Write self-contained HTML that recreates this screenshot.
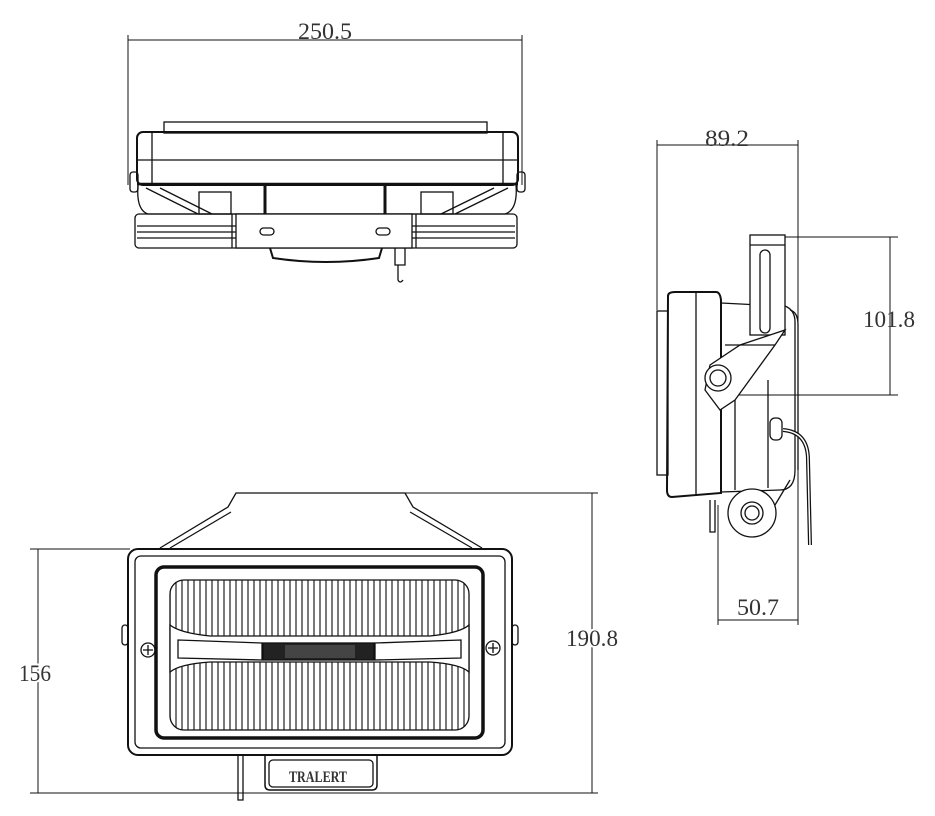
<!DOCTYPE html>
<html><head><meta charset="utf-8"><style>
html,body{margin:0;padding:0;background:#fff;}
svg{display:block}
text{font-family:"Liberation Serif",serif;fill:#333;}
</style></head><body>
<svg width="935" height="816" viewBox="0 0 935 816" xmlns="http://www.w3.org/2000/svg">
<defs>
<pattern id="ribs" width="6" height="10" patternUnits="userSpaceOnUse">
<rect width="6" height="10" fill="#fff"/><line x1="2" y1="0" x2="2" y2="10" stroke="#222" stroke-width="1.2"/>
</pattern>
</defs>
<g fill="none" stroke="#111" stroke-width="1.3">
<line x1="128" y1="40" x2="522" y2="40" stroke-width="1"/>
<line x1="128" y1="35" x2="128" y2="185" stroke-width="1"/>
<line x1="522" y1="35" x2="522" y2="185" stroke-width="1"/>
<rect x="164" y="122" width="323" height="11"/>
<rect x="137" y="132" width="381" height="53" rx="6" stroke-width="2"/>
<line x1="152" y1="133" x2="152" y2="184"/>
<line x1="503" y1="133" x2="503" y2="184"/>
<line x1="138" y1="160" x2="517" y2="160"/>
<line x1="137" y1="184" x2="518" y2="184" stroke-width="2.5"/>
<rect x="130" y="172" width="8" height="20" rx="3"/>
<rect x="517" y="172" width="8" height="20" rx="3"/>
<path d="M138 185 Q136 210 148 214 L505 214 Q518 210 516 185"/>
<line x1="146" y1="188" x2="198" y2="214"/><line x1="160" y1="188" x2="212" y2="214"/>
<line x1="508" y1="188" x2="455" y2="214"/><line x1="494" y1="188" x2="441" y2="214"/>
<rect x="199" y="192" width="32" height="22"/>
<rect x="421" y="192" width="32" height="22"/>
<line x1="265" y1="186" x2="265" y2="214" stroke-width="3"/>
<line x1="385" y1="186" x2="385" y2="214" stroke-width="3"/>
<rect x="135" y="214" width="382" height="34" rx="4"/>
<line x1="137" y1="226" x2="515" y2="226"/><line x1="137" y1="232" x2="515" y2="232"/><line x1="137" y1="238" x2="515" y2="238"/>
<rect x="236" y="214" width="176" height="34" fill="#fff"/>
<line x1="232" y1="214" x2="232" y2="248"/><line x1="416" y1="214" x2="416" y2="248"/>
<rect x="260" y="228" width="14" height="7" rx="3.5"/>
<rect x="376" y="228" width="14" height="7" rx="3.5"/>
<path d="M270 248 L273 258 Q326 266 379 258 L382 248" stroke-width="2"/>
<path d="M395 248 L395 265 L405 265 L405 248 M398 265 L398 280 Q400 284 403 280" />
<line x1="657" y1="145" x2="798" y2="145" stroke-width="1"/>
<line x1="657" y1="140" x2="657" y2="310" stroke-width="1"/>
<line x1="798" y1="140" x2="798" y2="625" stroke-width="1"/>
<line x1="780" y1="237" x2="898" y2="237" stroke-width="1"/>
<line x1="725" y1="395" x2="898" y2="395" stroke-width="1"/>
<line x1="890" y1="237" x2="890" y2="395" stroke-width="1"/>
<line x1="718" y1="505" x2="718" y2="625" stroke-width="1"/>
<line x1="718" y1="620" x2="798" y2="620" stroke-width="1"/>
<rect x="657" y="311" width="11" height="164"/>
<path d="M668 296 Q668 292 675 292 L716 292 Q720 292 721 300 L721 493 L672 497 Q667 497 667 490 Z" stroke-width="2"/>
<line x1="696" y1="293" x2="696" y2="496"/>
<path d="M721 303 L760 305 L785 306 Q795 310 795 322 L795 470 Q795 490 780 490 L721 492"/>
<path d="M790 310 Q798 312 798 325 L798 470"/>
<rect x="750" y="235" width="35" height="100" fill="#fff"/>
<line x1="750" y1="245" x2="785" y2="245"/>
<rect x="760" y="250" width="10" height="83" rx="5"/>
<path d="M785 330 L775 345 L735 400 L720 410 L705 390 L710 365 L740 345 Z" fill="#fff"/>
<line x1="725" y1="345" x2="775" y2="345"/>
<line x1="735" y1="400" x2="735" y2="490"/><line x1="768" y1="380" x2="768" y2="488"/>
<circle cx="718" cy="378" r="13" fill="#fff"/><circle cx="718" cy="378" r="8"/>
<rect x="770" y="418" width="12" height="22" rx="5"/>
<path d="M783 430 Q808 432 808 460 L810 545" stroke-width="4"/>
<path d="M783 430 Q808 432 808 460 L810 545" stroke="#fff" stroke-width="1.5"/>
<circle cx="752" cy="513" r="24" fill="#fff"/><circle cx="752" cy="513" r="11"/><circle cx="752" cy="513" r="7"/>
<path d="M775 505 L790 480"/>
<path d="M710 500 L710 532 L715 532 L715 500"/>
<line x1="405" y1="493" x2="598" y2="493" stroke-width="1"/>
<line x1="30" y1="793" x2="598" y2="793" stroke-width="1"/>
<line x1="592" y1="493" x2="592" y2="793" stroke-width="1"/>
<line x1="30" y1="549" x2="130" y2="549" stroke-width="1"/>
<line x1="38" y1="549" x2="38" y2="793" stroke-width="1"/>
<path d="M160 548 L228 507 L236 493 L405 493 L413 507 L482 548"/>
<path d="M170 548 L231 512 M472 548 L410 512"/>
<rect x="128" y="549" width="384" height="206" rx="10" stroke-width="2"/>
<rect x="135" y="556" width="370" height="192" rx="6"/>
<rect x="122" y="625" width="6" height="20" rx="3"/><rect x="512" y="625" width="6" height="20" rx="3"/>
<rect x="156" y="567" width="327" height="171" rx="8" stroke-width="3.5"/>
<rect x="170" y="580" width="299" height="150" rx="14" fill="url(#ribs)"/>
<path d="M170 625 Q180 633 210 636 L430 636 Q460 633 469 625 L469 672 Q460 664 430 662 L210 662 Q180 664 170 672 Z" fill="#fff"/>
<path d="M178 640 L262 643 L262 660 L178 658 Z M461 640 L375 643 L375 660 L461 658 Z"/>
<rect x="263" y="643" width="111" height="17" fill="#222"/>
<rect x="285" y="645" width="70" height="13" fill="#444" stroke="none"/>
<circle cx="148" cy="650" r="7"/><path d="M143 650 H153 M148 645 V655"/>
<circle cx="493" cy="648" r="7"/><path d="M488 648 H498 M493 643 V653"/>
<path d="M265 755 L265 785 Q265 790 270 790 L372 790 Q377 790 377 785 L377 755" stroke-width="1.5"/>
<rect x="269" y="760" width="104" height="27" rx="4"/>
<path d="M238 755 L238 800 L243 800 L243 755"/>
</g>
<g font-size="23">
<text x="325" y="39" text-anchor="middle" textLength="54" lengthAdjust="spacingAndGlyphs">250.5</text>
<text x="727" y="146" text-anchor="middle" textLength="44" lengthAdjust="spacingAndGlyphs">89.2</text>
<text x="889" y="327" text-anchor="middle" textLength="52" lengthAdjust="spacingAndGlyphs">101.8</text>
<text x="758" y="615" text-anchor="middle" textLength="42" lengthAdjust="spacingAndGlyphs">50.7</text>
<text x="592" y="646" text-anchor="middle" textLength="52" lengthAdjust="spacingAndGlyphs" style="paint-order:stroke" stroke="#fff" stroke-width="4">190.8</text>
<text x="35" y="681" text-anchor="middle" textLength="32" lengthAdjust="spacingAndGlyphs" style="paint-order:stroke" stroke="#fff" stroke-width="4">156</text>
</g>
<text x="318" y="782" font-size="16" font-weight="bold" text-anchor="middle" font-family="Liberation Sans" textLength="58" lengthAdjust="spacingAndGlyphs" fill="#222">TRALERT</text>
</svg>
</body></html>
